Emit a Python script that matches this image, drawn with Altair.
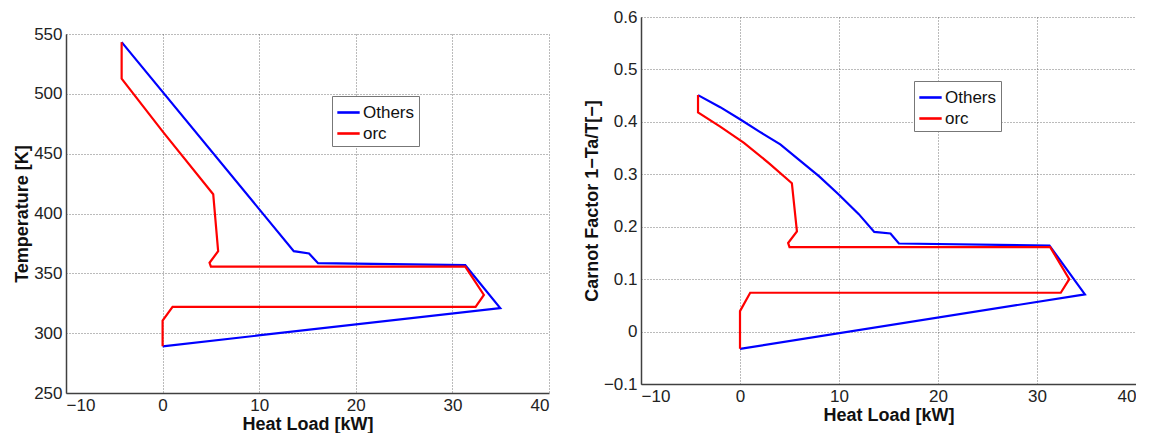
import altair as alt
import pandas as pd

# ---- Left panel: Temperature vs heat load ----
left_others_q = [-4.24, 13.58, 15.16, 16.09, 31.33, 34.95, 0.0]
left_others_t = [543.2, 368.5, 366.6, 358.5, 356.8, 321.0, 289.0]

left_orc_q = [0.0, 0.0, 1.03, 32.4, 33.26, 31.33, 5.0, 4.86, 5.75, 5.24, 0.06, -4.24, -4.24]
left_orc_t = [289.0, 310.4, 322.0, 322.0, 332.0, 355.6, 355.6, 358.8, 368.5, 416.1, 468.0, 512.7, 543.2]

# ---- Right panel: Carnot factor vs heat load ----
right_others_q = [-4.24, -2.0, 0.0, 2.0, 4.07, 6.0, 8.0, 10.0, 12.0, 13.56, 15.2, 16.05, 31.26, 34.84, 0.0]
right_others_cf = [0.451, 0.428, 0.405, 0.381, 0.357, 0.327, 0.296, 0.261, 0.224, 0.190, 0.187, 0.168, 0.164, 0.071, -0.033]

right_orc_q = [0.0, 0.0, 1.03, 32.4, 33.26, 31.33, 5.0, 4.86, 5.75, 5.24, 3.0, 0.4, -2.0, -4.24, -4.24]
right_orc_cf = [-0.033, 0.039, 0.074, 0.074, 0.100, 0.161, 0.161, 0.169, 0.191, 0.283, 0.320, 0.360, 0.391, 0.418, 0.451]

series_names = ["Others", "orc"]
series_colors = ["#0000ff", "#ff0000"]
x_ticks = [-10, 0, 10, 20, 30, 40]
t_ticks = [250, 300, 350, 400, 450, 500, 550]
cf_ticks = [-0.1, 0, 0.1, 0.2, 0.3, 0.4, 0.5, 0.6]

FONT = "Liberation Sans"


def make_df(qa, va, qb, vb):
    rows = []
    for i, (q, v) in enumerate(zip(qa, va)):
        rows.append({"q": q, "v": v, "series": series_names[0], "i": i})
    for i, (q, v) in enumerate(zip(qb, vb)):
        rows.append({"q": q, "v": v, "series": series_names[1], "i": i})
    return pd.DataFrame(rows)


left_df = make_df(left_others_q, left_others_t, left_orc_q, left_orc_t)
right_df = make_df(right_others_q, right_others_cf, right_orc_q, right_orc_cf)


def panel(df, y_title, y_domain, y_ticks, y_fmt, w, h, lx, ly):
    base = alt.Chart(df).mark_line(strokeWidth=2.2, clip=True).encode(
        x=alt.X(
            "q:Q",
            scale=alt.Scale(domain=[-10, 40], nice=False, zero=False),
            axis=alt.Axis(values=x_ticks, title="Heat Load [kW]", format="d"),
        ),
        y=alt.Y(
            "v:Q",
            scale=alt.Scale(domain=y_domain, nice=False, zero=False),
            axis=alt.Axis(values=y_ticks, title=y_title, format=y_fmt),
        ),
        color=alt.Color(
            "series:N",
            scale=alt.Scale(domain=series_names, range=series_colors),
            sort=series_names,
            legend=alt.Legend(
                title=None,
                orient="none",
                legendX=lx,
                legendY=ly,
                symbolType="stroke",
                symbolSize=500,
                symbolStrokeWidth=2.6,
                labelFont=FONT,
                labelFontSize=17,
                labelColor="#111",
                strokeColor="#777",
                fillColor="white",
                padding=4,
                rowPadding=0,
                labelOffset=2,
            ),
        ),
        order="i:Q",
        detail="series:N",
    )
    return base.properties(width=w, height=h)


left = panel(left_df, "Temperature [K]", [250, 550], t_ticks, "d", 483, 359, 266, 79)
right = panel(right_df, "Carnot Factor 1\u2212Ta/T[\u2212]", [-0.1, 0.6], cf_ticks, ".1~f", 495, 367, 273, 64)

spacer = (
    alt.Chart(pd.DataFrame({"a": [0]}))
    .mark_point(opacity=0)
    .encode(x=alt.value(0), y=alt.value(0))
    .properties(width=483, height=1)
)

left_col = alt.vconcat(spacer, left, spacing=5)

chart = (
    alt.hconcat(left_col, right, spacing=34)
    .resolve_legend(color="independent")
    .resolve_scale(y="independent")
    .properties(padding={"left": 5, "top": 0, "right": 0, "bottom": 0})
    .configure_view(stroke=None)
    .configure_axis(
        labelFont=FONT,
        labelFontSize=17,
        labelColor="#222",
        titleFont=FONT,
        titleFontSize=18,
        titleFontWeight="bold",
        titleColor="#111",
        domainColor="#404040",
        domainWidth=1.5,
        ticks=False,
        labelPadding=4,
        titlePadding=2,
        grid=True,
        gridColor="#555",
        gridDash=[1, 2],
        gridWidth=1,
        gridOpacity=0.8,
    )
)

chart.save("out.html", embed_options={"renderer": "svg", "actions": False})
